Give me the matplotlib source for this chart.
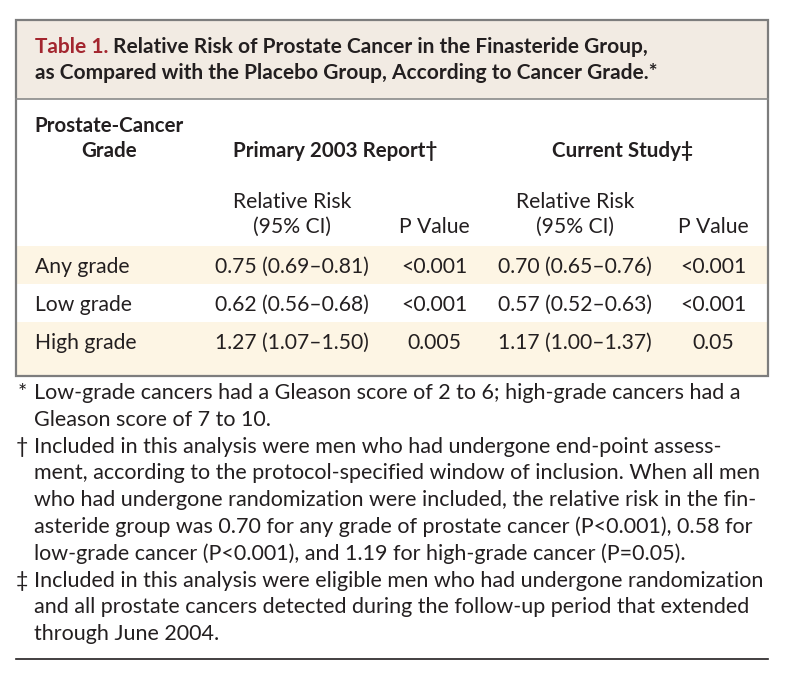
import matplotlib.pyplot as plt
from matplotlib.patches import Rectangle

# Table data
grades = ["Any grade", "Low grade", "High grade"]
rr_2003 = ["0.75 (0.69–0.81)", "0.62 (0.56–0.68)", "1.27 (1.07–1.50)"]
p_2003 = ["<0.001", "<0.001", "0.005"]
rr_current = ["0.70 (0.65–0.76)", "0.57 (0.52–0.63)", "1.17 (1.00–1.37)"]
p_current = ["<0.001", "<0.001", "0.05"]

title_label = "Table 1."
title_lines = ["Relative Risk of Prostate Cancer in the Finasteride Group,",
               "as Compared with the Placebo Group, According to Cancer Grade.*"]

footnotes = [
    ("*", ["Low-grade cancers had a Gleason score of 2 to 6; high-grade cancers had a",
           "Gleason score of 7 to 10."]),
    ("†", ["Included in this analysis were men who had undergone end-point assess-",
           "ment, according to the protocol-specified window of inclusion. When all men",
           "who had undergone randomization were included, the relative risk in the fin-",
           "asteride group was 0.70 for any grade of prostate cancer (P<0.001), 0.58 for",
           "low-grade cancer (P<0.001), and 1.19 for high-grade cancer (P=0.05)."]),
    ("‡", ["Included in this analysis were eligible men who had undergone randomization",
           "and all prostate cancers detected during the follow-up period that extended",
           "through June 2004."]),
]

# Style
ink = "#231f20"
red = "#a3262f"
title_bg = "#f2ebe3"
band = "#fdf5e4"
border = "#7d7d7d"
body_font = ["Lato", "DejaVu Sans"]
title_font = ["Lato", "DejaVu Sans"]
fs = 15.2      # body text
fs_note = 15.5 # footnotes
fs_hdr = 14.8  # bold column headers
fs_title = 15

fig = plt.figure(figsize=(7.96, 6.78), dpi=100)
ax = fig.add_axes([0, 0, 1, 1])
ax.set_xlim(0, 796)
ax.set_ylim(678, 0)
ax.axis("off")

left, right, top, bottom = 16, 768, 20, 376

# title block
ax.add_patch(Rectangle((left, top), right - left, 79, facecolor=title_bg, edgecolor="none"))
ax.plot([left, right], [99, 99], color="#8a8a8a", lw=1.2)

t = ax.text(35, 47, title_label, color=red, fontsize=fs_title, fontweight="bold",
            family=title_font, va="center")
ax.annotate(" " + title_lines[0], xy=(1, 0), xycoords=t, va="bottom",
            color=ink, fontsize=fs_title, fontweight="bold", family=title_font)
ax.text(35, 73, title_lines[1], color=ink, fontsize=fs_title, fontweight="bold",
        family=title_font, va="center")

# row bands
row_y = [267 + 38 * i for i in range(len(grades))]
for i, y in enumerate(row_y):
    if i % 2 == 0:
        h = 38 if i < len(grades) - 1 else bottom - (y - 21)
        ax.add_patch(Rectangle((left, y - 21), right - left, h,
                               facecolor=band, edgecolor="none"))

# outer box
ax.add_patch(Rectangle((left, top), right - left, bottom - top,
                       facecolor="none", edgecolor=border, lw=1.6))

# column headers
hdr = dict(color=ink, fontsize=fs_hdr, fontweight="bold", family=body_font,
           va="center", ha="center")
ax.text(109, 126, "Prostate-Cancer", **hdr)
ax.text(109, 151, "Grade", **hdr)
ax.text(335, 151, "Primary 2003 Report†", **hdr)
ax.text(622, 151, "Current Study‡", **hdr)

sub = dict(color=ink, fontsize=fs, family=body_font, va="center", ha="center")
for cx_rr, cx_p in [(292, 434), (575, 713)]:
    ax.text(cx_rr, 202, "Relative Risk", **sub)
    ax.text(cx_rr, 227, "(95% CI)", **sub)
    ax.text(cx_p, 227, "P Value", **sub)

# body rows
for i, y in enumerate(row_y):
    ax.text(35, y, grades[i], color=ink, fontsize=fs, family=body_font, va="center")
    ax.text(292, y, rr_2003[i], **sub)
    ax.text(434, y, p_2003[i], **sub)
    ax.text(575, y, rr_current[i], **sub)
    ax.text(713, y, p_current[i], **sub)

# footnotes
y = 393
for mark, lines in footnotes:
    ax.text(22, y, mark, color=ink, fontsize=fs_note, family=body_font, va="center", ha="center")
    for line in lines:
        ax.text(34, y, line, color=ink, fontsize=fs_note, family=body_font, va="center")
        y += 26.8

ax.plot([left, right], [659, 659], color=ink, lw=1.2)

fig.savefig("out.png", dpi=100)
